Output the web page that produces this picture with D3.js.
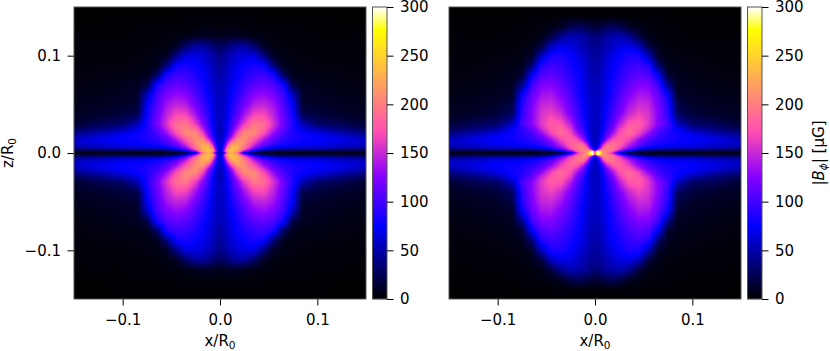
<!DOCTYPE html>
<html><head><meta charset="utf-8">
<script src="https://cdn.jsdelivr.net/npm/d3@7"></script>
<style>html,body{margin:0;padding:0;background:#fff}svg{display:block}text{font-family:"DejaVu Sans",sans-serif;fill:#000}</style>
</head><body><svg id="c" width="830" height="351"></svg>
<script>
// One quadrant of |B_phi| in microgauss; rows are z, columns are x.
const xCols=[0,.002,.004,.008,.012,.018,.025,.035,.045,.055,.065,.075,.085,.10,.12,.15];
const zRows=[0,.0015,.003,.005,.008,.012,.016,.02,.025,.03,.04,.05,.06,.07,.08,.09,.10,.11,.12,.13,.14,.15];
const leftGrid=[
[55,45,70,200,230,185,60,15,8,6,5,5,5,5,5,5],
[65,60,130,225,235,215,120,50,25,18,15,15,15,15,15,15],
[65,70,130,225,240,225,165,90,55,40,35,35,35,35,30,25],
[65,65,110,205,235,230,190,125,85,70,60,58,55,55,50,42],
[60,65,90,170,225,225,200,150,110,90,80,75,72,70,62,55],
[60,60,75,130,178,218,208,170,130,104,88,82,78,75,70,60],
[58,60,65,105,138,195,212,188,150,115,95,85,80,75,68,52],
[55,58,62,90,120,170,208,208,170,130,102,85,78,68,55,40],
[55,55,60,80,105,145,185,205,185,145,110,85,65,50,38,25],
[58,58,62,78,98,128,160,195,190,155,118,85,52,30,25,14],
[58,58,60,72,90,108,135,165,168,145,112,78,22,18,13,10],
[58,58,60,68,82,98,118,142,148,135,105,72,14,12,10,8],
[56,56,58,66,76,88,105,125,130,120,98,55,12,10,8,6],
[54,54,56,63,70,82,95,108,112,104,82,20,10,8,6,5],
[50,50,53,60,66,76,85,95,98,85,28,8,6,6,5,4],
[46,46,50,56,62,70,76,84,78,34,8,6,5,4,4,3],
[40,40,44,50,56,62,66,66,38,10,6,5,4,3,3,3],
[28,28,30,36,40,46,46,30,10,5,4,3,3,3,3,2],
[8,8,8,9,10,10,8,6,5,4,3,3,3,2,2,2],
[4,4,4,4,4,4,3,3,3,2,2,2,2,2,1,1],
[2,2,2,2,2,2,2,2,1,1,1,1,1,1,1,1],
[1,1,1,1,1,1,1,1,1,1,1,1,1,1,1,1]];
const rightGrid=[
[180,300,300,215,190,150,60,15,8,6,5,5,5,5,5,5],
[130,300,290,210,200,175,110,50,25,18,15,15,15,15,15,15],
[70,120,170,205,205,190,150,90,55,42,36,35,35,35,30,25],
[60,75,110,180,200,195,170,125,88,70,62,58,56,55,50,42],
[55,62,80,150,190,195,180,145,110,90,80,75,72,70,62,55],
[55,58,65,105,150,180,185,160,125,100,88,82,78,74,68,58],
[55,58,62,85,120,155,180,175,145,112,95,85,80,74,66,50],
[55,56,60,78,105,135,170,190,165,130,100,88,78,68,52,38],
[55,56,58,74,92,118,158,185,176,150,112,92,72,48,36,25],
[58,58,60,72,88,108,142,175,180,158,125,100,55,30,26,15],
[58,58,60,68,80,98,120,150,165,155,125,92,28,18,13,10],
[58,58,60,66,76,92,110,135,150,148,120,88,20,12,10,8],
[56,56,58,64,72,86,102,122,138,135,112,75,12,10,8,6],
[54,55,56,62,70,82,95,112,124,122,98,40,10,8,6,5],
[50,52,54,60,68,78,88,102,110,105,72,14,8,6,5,4],
[48,50,52,58,64,74,82,94,98,88,32,9,6,5,4,3],
[45,46,48,54,60,68,76,86,84,54,12,6,5,4,3,3],
[42,43,45,48,52,58,66,68,55,18,7,4,3,3,3,2],
[35,36,38,42,46,50,52,42,18,7,4,3,3,2,2,2],
[15,15,18,20,24,26,22,10,6,4,3,3,2,2,2,1],
[3,3,3,3,3,3,3,3,2,2,2,1,1,1,1,1],
[1,1,1,1,1,1,1,1,1,1,1,1,1,1,1,1]];
const posTicks=[-0.1,0,0.1];
const cbarTicks=[0,50,100,150,200,250,300];
const cmapStops=[0,75,126,171,276,300];
const cmapColors=["#000000","#0000ff","#8700ff","#ff4db3","#ffff00","#ffffff"];

const svg=d3.select("#c");
const cmap=d3.scaleLinear().domain(cmapStops).range(cmapColors).clamp(true);
const fontSize=15, plotTop=7, size=292, spine="#555";
const fx=n=>d3.format(".1f")(n).replace("-","\u2212");
const xIdx=d3.scaleLinear().domain(xCols).range(xCols.map((_,i)=>i)).clamp(true);
const zIdx=d3.scaleLinear().domain(zRows).range(zRows.map((_,i)=>i)).clamp(true);
function sample(g,x,z){
  const fi=xIdx(Math.abs(x)),fj=zIdx(Math.abs(z));
  const i=Math.min(Math.floor(fi),xCols.length-2),j=Math.min(Math.floor(fj),zRows.length-2);
  const a=fi-i,b=fj-j;
  return d3.interpolateNumber(d3.interpolateNumber(g[j][i],g[j][i+1])(a),d3.interpolateNumber(g[j+1][i],g[j+1][i+1])(a))(b);
}
function panel(left,grid,showY){
  const x=d3.scaleLinear().domain([-.15,.15]).range([left,left+size]);
  const y=d3.scaleLinear().domain([-.15,.15]).range([plotTop+size,plotTop]);
  const cv=document.createElement("canvas");cv.width=size;cv.height=size;
  const ctx=cv.getContext("2d");
  for(let py=0;py<size;py++)for(let px=0;px<size;px++){
    ctx.fillStyle=cmap(sample(grid,x.invert(left+px+.5),y.invert(plotTop+py+.5)));
    ctx.fillRect(px,py,1,1);
  }
  svg.append("image").attr("x",left).attr("y",plotTop).attr("width",size).attr("height",size).attr("href",cv.toDataURL());
  const ax=svg.append("g").attr("transform",`translate(0,${plotTop+size})`)
    .call(d3.axisBottom(x).tickValues(posTicks).tickFormat(fx).tickSize(6.5).tickPadding(8.5));
  ax.select(".domain").remove();
  ax.selectAll("text").attr("font-size",fontSize);
  if(showY){
    const ay=svg.append("g").attr("transform",`translate(${left},0)`)
      .call(d3.axisLeft(y).tickValues(posTicks).tickFormat(fx).tickSize(6.5).tickPadding(6.5));
    ay.select(".domain").remove();
    ay.selectAll("text").attr("font-size",fontSize);
  }
  svg.append("rect").attr("x",left).attr("y",plotTop).attr("width",size).attr("height",size)
    .attr("fill","none").attr("stroke",spine).attr("stroke-width",1);
  const l=svg.append("text").attr("x",left+size/2).attr("y",346).attr("text-anchor","middle").attr("font-size",fontSize);
  l.append("tspan").text("x/R");
  l.append("tspan").attr("dy",2.5).attr("font-size",fontSize*.7).text("0");
}
function colorbar(left){
  const w=14.5;
  const y=d3.scaleLinear().domain([0,300]).range([plotTop+size,plotTop]);
  svg.append("g").selectAll("rect").data(d3.range(0,size)).enter().append("rect")
    .attr("x",left).attr("width",w).attr("y",d=>plotTop+d).attr("height",1.2)
    .attr("fill",d=>cmap(y.invert(plotTop+d+.5)));
  svg.append("rect").attr("x",left).attr("y",plotTop).attr("width",w).attr("height",size)
    .attr("fill","none").attr("stroke",spine).attr("stroke-width",1);
  const a=svg.append("g").attr("transform",`translate(${left+w},0)`)
    .call(d3.axisRight(y).tickValues(cbarTicks).tickFormat(d3.format("d")).tickSize(6.5).tickPadding(6.5));
  a.select(".domain").remove();
  a.selectAll("text").attr("font-size",fontSize);
}
panel(74,leftGrid,true);
panel(449,rightGrid,false);
colorbar(372.5);
colorbar(747.5);
const zl=svg.append("text").attr("transform",`translate(13,${plotTop+size/2}) rotate(-90)`).attr("text-anchor","middle").attr("font-size",fontSize);
zl.append("tspan").text("z/R");
zl.append("tspan").attr("dy",2.5).attr("font-size",fontSize*.7).text("0");
const bl=svg.append("text").attr("transform",`translate(824,${plotTop+size/2}) rotate(-90)`).attr("text-anchor","middle").attr("font-size",fontSize);
bl.append("tspan").text("|");
bl.append("tspan").attr("font-style","italic").text("B");
bl.append("tspan").attr("dy",2.5).attr("font-size",fontSize*.7).attr("font-style","italic").text("\u03d5");
bl.append("tspan").attr("dy",-2.5).text("| [\u03bcG]");
</script></body></html>
